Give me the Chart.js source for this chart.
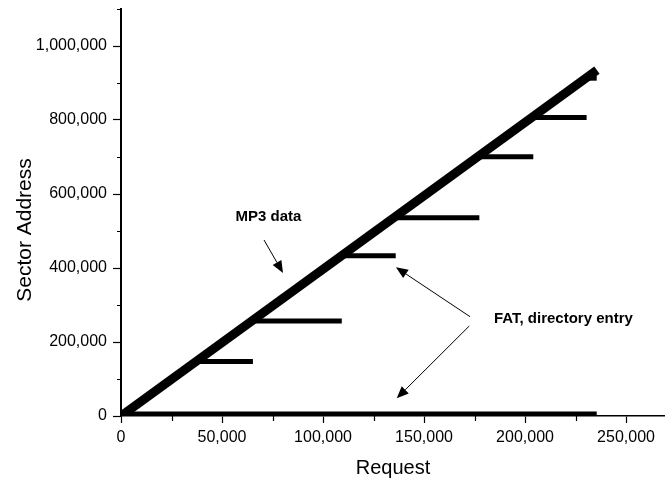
<!DOCTYPE html>
<html>
<head>
<meta charset="utf-8">
<title>Sector Address vs Request</title>
<script src="https://cdn.jsdelivr.net/npm/chart.js@4.4.1/dist/chart.umd.min.js"></script>
<style>
  html, body { margin: 0; padding: 0; background: #fff; }
  canvas { display: block; }
</style>
</head>
<body>
<canvas id="chart" width="665" height="480"></canvas>
<script>
// MP3 data: one long sequential run
const mp3Request = [0, 235600];
const mp3Sector = [0, 935000];

// FAT / directory entry writes: horizontal runs at fixed sectors
const fatSector = [5400, 147000, 257000, 433000, 536000, 701000, 807000, 913000];
const fatFirstRequest = [0, 36800, 64700, 109000, 135000, 176600, 203400, 230000];
const fatLastRequest = [235500, 65300, 109300, 136000, 177400, 204100, 230500, 235500];

// axis ticks
const xMajorTicks = [0, 50000, 100000, 150000, 200000, 250000];
const xMinorTicks = [25000, 75000, 125000, 175000, 225000];
const yMajorTicks = [0, 200000, 400000, 600000, 800000, 1000000];
const yMinorTicks = [100000, 300000, 500000, 700000, 900000, 1100000];

// annotation labels and arrows, in data units
const noteLabels = ['MP3 data', 'FAT, directory entry'];
const noteLabelAt = [[73000, 538600], [219000, 262200]];
const noteArrows = [
    [[70800, 475700], [80200, 386500]],
    [[172800, 268400], [136100, 401900]],
    [[172400, 243200], [136500, 47800]],
];

const FONT = '"Liberation Sans", Arial, Helvetica, sans-serif';

const datasets = [{
    label: 'MP3 data',
    data: mp3Request.map((x, i) => ({ x, y: mp3Sector[i] })),
    showLine: true,
    borderColor: '#000',
    borderWidth: 9,
    borderCapStyle: 'butt',
    pointRadius: 0,
}];

fatSector.forEach((y, i) => {
    datasets.push({
        label: 'FAT, directory entry',
        data: [{ x: fatFirstRequest[i], y }, { x: fatLastRequest[i], y }],
        showLine: true,
        borderColor: '#000',
        borderWidth: 5,
        borderCapStyle: 'butt',
        pointRadius: 0,
    });
});

const fmt = v => Number(v).toLocaleString('en-US');

// minor ticks, y title and arrow annotations
const extrasPlugin = {
    id: 'extras',
    afterDraw(chart) {
        const { ctx, scales: { x, y } } = chart;
        ctx.save();
        ctx.strokeStyle = '#000';
        ctx.lineWidth = 1.2;
        ctx.beginPath();
        xMinorTicks.forEach(v => {
            const px = Math.round(x.getPixelForValue(v)) + 0.5;
            ctx.moveTo(px, y.bottom);
            ctx.lineTo(px, y.bottom + 5);
        });
        yMinorTicks.forEach(v => {
            const py = Math.round(y.getPixelForValue(v)) + 0.5;
            ctx.moveTo(x.left, py);
            ctx.lineTo(x.left - 4, py);
        });
        ctx.stroke();

        // y axis title
        ctx.fillStyle = '#000';
        ctx.font = '21px ' + FONT;
        ctx.textAlign = 'center';
        ctx.textBaseline = 'middle';
        ctx.save();
        ctx.translate(25, 230);
        ctx.rotate(-Math.PI / 2);
        ctx.fillText('Sector Address', 0, 0);
        ctx.restore();

        // labels
        ctx.font = 'bold 15px ' + FONT;
        noteLabels.forEach((t, i) => {
            const [vx, vy] = noteLabelAt[i];
            ctx.fillText(t, x.getPixelForValue(vx), y.getPixelForValue(vy));
        });

        // arrows
        ctx.lineWidth = 1;
        noteArrows.forEach(([from, to]) => {
            const x0 = x.getPixelForValue(from[0]), y0 = y.getPixelForValue(from[1]);
            const x1 = x.getPixelForValue(to[0]), y1 = y.getPixelForValue(to[1]);
            const ang = Math.atan2(y1 - y0, x1 - x0);
            const len = 12, half = 5;
            const bx = x1 - len * Math.cos(ang), by = y1 - len * Math.sin(ang);
            ctx.beginPath();
            ctx.moveTo(x0, y0);
            ctx.lineTo(bx, by);
            ctx.stroke();
            ctx.beginPath();
            ctx.moveTo(x1, y1);
            ctx.lineTo(bx + half * Math.sin(ang), by - half * Math.cos(ang));
            ctx.lineTo(bx - half * Math.sin(ang), by + half * Math.cos(ang));
            ctx.closePath();
            ctx.fill();
        });
        ctx.restore();
    },
};

new Chart(document.getElementById('chart'), {
    type: 'scatter',
    data: { datasets },
    options: {
        responsive: false,
        animation: false,
        devicePixelRatio: 1,
        layout: { padding: { top: 9, right: 0, bottom: 0, left: 0 } },
        plugins: {
            legend: { display: false },
            tooltip: { enabled: false },
        },
        scales: {
            x: {
                type: 'linear',
                min: 0,
                max: 269300,
                afterFit(scale) {
                    scale.height = 64;
                    scale.paddingLeft = 0;
                    scale.paddingRight = 0;
                },
                afterBuildTicks(scale) {
                    scale.ticks = xMajorTicks.map(value => ({ value }));
                },
                border: { display: true, color: '#000', width: 1.5 },
                grid: {
                    drawOnChartArea: false,
                    drawTicks: true,
                    tickLength: 7,
                    tickColor: '#000',
                    tickWidth: 1.2,
                },
                ticks: {
                    color: '#000',
                    padding: 5,
                    maxRotation: 0,
                    autoSkip: false,
                    font: { family: FONT, size: 16 },
                    callback: v => fmt(v),
                },
                title: {
                    display: true,
                    text: 'Request',
                    color: '#000',
                    font: { family: FONT, size: 20 },
                    padding: { top: 0, bottom: 0 },
                },
            },
            y: {
                type: 'linear',
                min: 0,
                max: 1100000,
                afterFit(scale) {
                    scale.width = 121;
                    scale.paddingTop = 0;
                    scale.paddingBottom = 0;
                },
                afterBuildTicks(scale) {
                    scale.ticks = yMajorTicks.map(value => ({ value }));
                },
                border: { display: true, color: '#000', width: 2 },
                grid: {
                    drawOnChartArea: false,
                    drawTicks: true,
                    tickLength: 8,
                    tickColor: '#000',
                    tickWidth: 1.2,
                },
                ticks: {
                    color: '#000',
                    padding: 6,
                    autoSkip: false,
                    font: { family: FONT, size: 16 },
                    callback: v => fmt(v),
                },
            },
        },
    },
    plugins: [extrasPlugin],
});
</script>
</body>
</html>
